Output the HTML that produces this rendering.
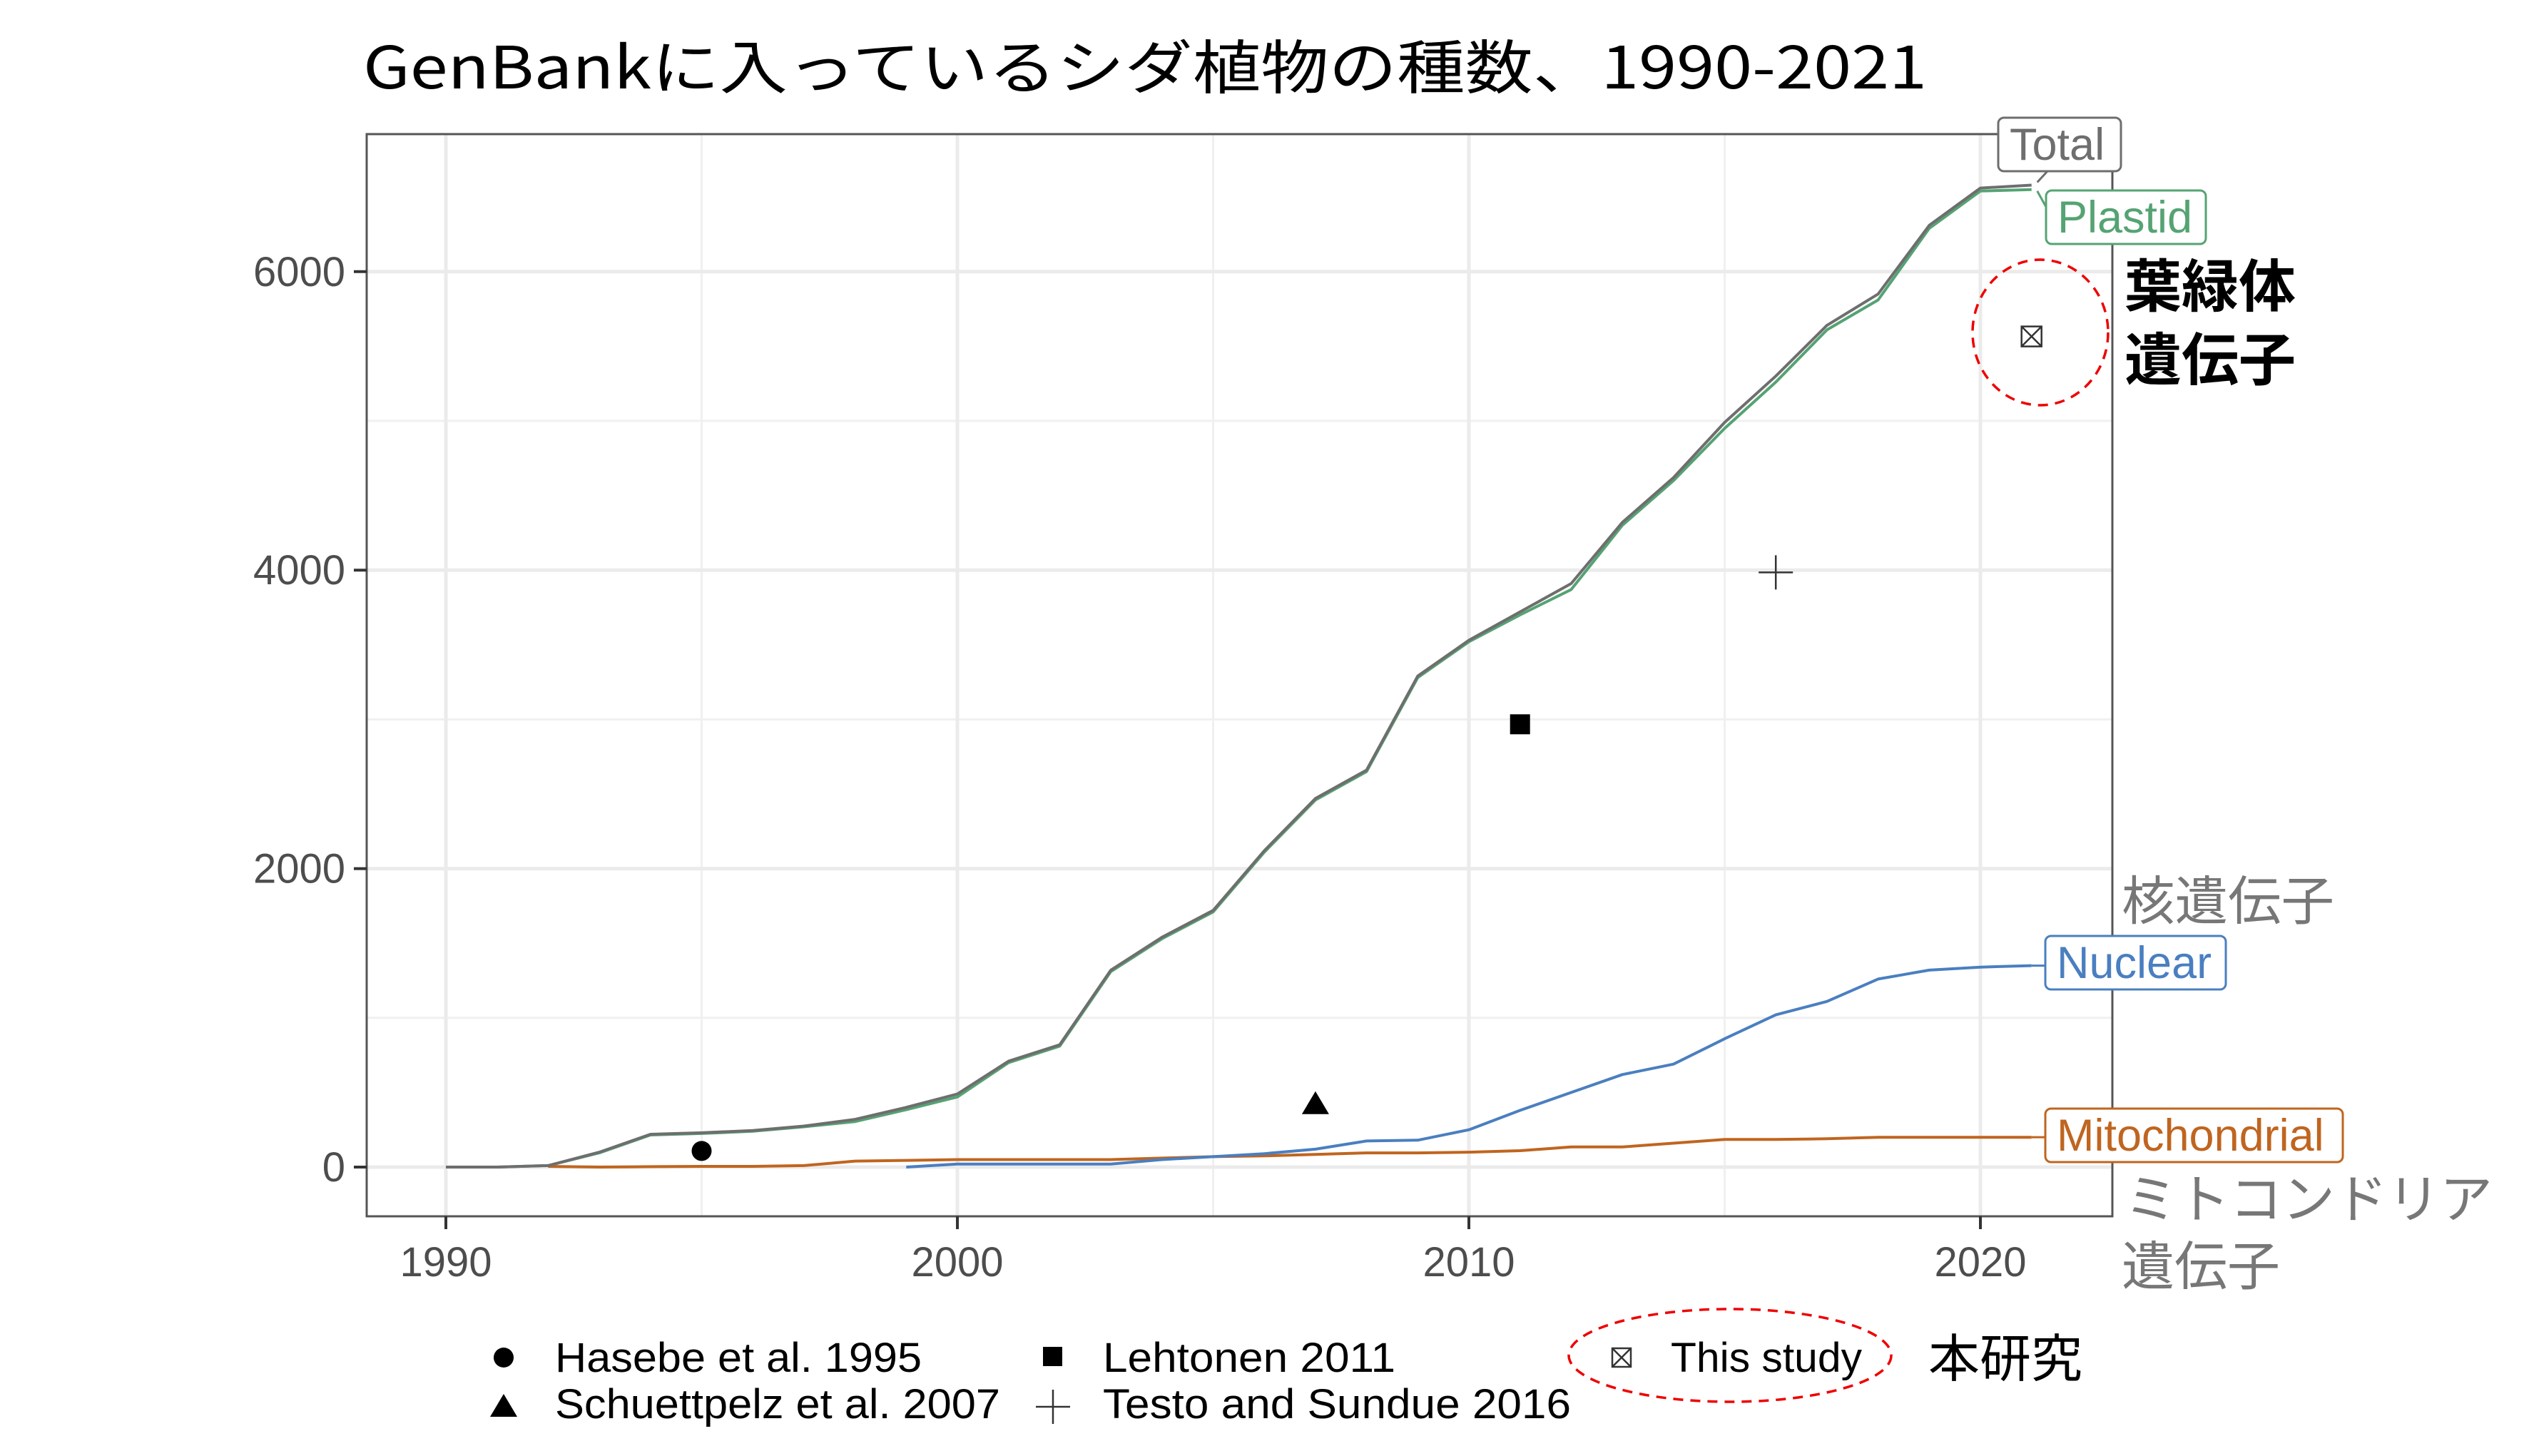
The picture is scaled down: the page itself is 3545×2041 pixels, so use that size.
<!DOCTYPE html>
<html><head><meta charset="utf-8"><style>
html,body{margin:0;padding:0;background:#fff}
svg{display:block}
</style></head><body>
<svg id="chart" width="3545" height="2041" viewBox="0 0 3545 2041" xmlns="http://www.w3.org/2000/svg">
<text x="509" y="124" font-family="'Noto Sans CJK JP', sans-serif" font-size="82" fill="#000" textLength="2192" lengthAdjust="spacingAndGlyphs">GenBankに入っているシダ植物の種数、1990-2021</text>
<g id="grid"></g>
<g id="series"></g>
<g id="points"></g>
<rect x="514" y="188" width="2447" height="1517" fill="none" stroke="#555" stroke-width="3"/>
<g id="axes"></g>
<g id="labels"></g>

<ellipse cx="2860" cy="466" rx="95" ry="102" fill="none" stroke="#e00" stroke-width="3.5" stroke-dasharray="14,10"/>
<text x="2978" y="430" font-family="'Noto Sans CJK JP', sans-serif" font-size="80" font-weight="bold" fill="#000">葉緑体</text>
<text x="2978" y="533" font-family="'Noto Sans CJK JP', sans-serif" font-size="80" font-weight="bold" fill="#000">遺伝子</text>
<text x="2974" y="1289" font-family="'Noto Sans CJK JP', sans-serif" font-size="74" fill="#777" textLength="298" lengthAdjust="spacingAndGlyphs">核遺伝子</text>
<text x="2978" y="1707" font-family="'Noto Sans CJK JP', sans-serif" font-size="74" fill="#777" textLength="516" lengthAdjust="spacing">ミトコンドリア</text>
<text x="2974" y="1801" font-family="'Noto Sans CJK JP', sans-serif" font-size="74" fill="#777">遺伝子</text>

<g id="legend" font-family="'Liberation Sans', sans-serif" font-size="58" fill="#000">
  <circle cx="706" cy="1903" r="14" fill="#000"/>
  <text x="778" y="1923" textLength="514" lengthAdjust="spacingAndGlyphs">Hasebe et al. 1995</text>
  <path d="M706,1954 L725,1986 L687,1986 Z" fill="#000"/>
  <text x="778" y="1988" textLength="624" lengthAdjust="spacingAndGlyphs">Schuettpelz et al. 2007</text>
  <rect x="1462" y="1888" width="27" height="27" fill="#000"/>
  <text x="1546" y="1923" textLength="410" lengthAdjust="spacingAndGlyphs">Lehtonen 2011</text>
  <path d="M1476,1948 V1996 M1452,1972 H1500" stroke="#333" stroke-width="2.5"/>
  <text x="1546" y="1988" textLength="656" lengthAdjust="spacingAndGlyphs">Testo and Sundue 2016</text>
  <g stroke="#333" stroke-width="2.5" fill="none">
    <rect x="2260" y="1890" width="26" height="26"/><path d="M2260,1890 L2286,1916 M2286,1890 L2260,1916"/>
  </g>
  <text x="2342" y="1923" textLength="268" lengthAdjust="spacingAndGlyphs">This study</text>
  <ellipse cx="2425" cy="1900" rx="226" ry="65" fill="none" stroke="#e00" stroke-width="3.5" stroke-dasharray="14,10"/>
  <text x="2703" y="1930" font-family="'Noto Sans CJK JP', sans-serif" font-size="72">本研究</text>
</g>
</svg>
<script>
const years = [1990,1991,1992,1993,1994,1995,1996,1997,1998,1999,2000,2001,2002,2003,2004,2005,2006,2007,2008,2009,2010,2011,2012,2013,2014,2015,2016,2017,2018,2019,2020,2021];
const totalVals = [0,0,10,100,220,230,245,275,320,400,490,710,820,1320,1540,1720,2120,2470,2660,3290,3530,3720,3910,4320,4620,4990,5300,5640,5850,6310,6560,6580];
const plastidVals = [0,0,10,95,215,225,240,270,305,385,470,700,810,1310,1530,1710,2110,2460,2650,3280,3520,3700,3870,4300,4600,4950,5260,5610,5810,6290,6540,6550];
const nuclearYears = [1999,2000,2001,2002,2003,2004,2005,2006,2007,2008,2009,2010,2011,2012,2013,2014,2015,2016,2017,2018,2019,2020,2021];
const nuclearVals = [0,20,20,20,20,50,70,90,120,175,180,250,380,500,620,690,860,1020,1110,1260,1320,1340,1350];
const mitoYears = [1992,1993,1994,1995,1996,1997,1998,1999,2000,2001,2002,2003,2004,2005,2006,2007,2008,2009,2010,2011,2012,2013,2014,2015,2016,2017,2018,2019,2020,2021];
const mitoVals = [5,0,3,5,5,10,40,45,50,50,50,50,60,70,75,85,95,95,100,110,135,135,160,185,185,190,200,200,200,200];
const refYears = [1995,2007,2011,2016,2021];
const refVals = [108,422,2967,3985,5566];
const refShapes = ['circle','triangle','square','plus','boxx'];
const refNames = ['point-hasebe-1995','point-schuettpelz-2007','point-lehtonen-2011','point-testo-2016','point-this-study'];
const xTicks = [1990,2000,2010,2020];
const yTicks = [0,2000,4000,6000];
const yMinor = [1000,3000,5000];
const xMinor = [1995,2005,2015];

const NS='http://www.w3.org/2000/svg';
const X0=514,X1=2961,Y0=188,Y1=1705;
const xs=v=>625+(v-1990)*71.7;
const ys=v=>1636-v*0.2092;
function mk(tag,attrs,parent){const e=document.createElementNS(NS,tag);for(const k in attrs)e.setAttribute(k,attrs[k]);parent.appendChild(e);return e;}
const grid=document.getElementById('grid'),axes=document.getElementById('axes'),series=document.getElementById('series'),pts=document.getElementById('points'),labels=document.getElementById('labels');
mk('rect',{x:X0,y:Y0,width:X1-X0,height:Y1-Y0,fill:'#fff'},grid);
yMinor.forEach(v=>{const l=mk('line',{x1:X0,x2:X1,y1:ys(v),y2:ys(v),stroke:'#f0f0f0','stroke-width':3},grid);

});
xMinor.forEach(v=>{const l=mk('line',{y1:Y0,y2:Y1,x1:xs(v),x2:xs(v),stroke:'#f0f0f0','stroke-width':3},grid);

});
yTicks.forEach(v=>{const l=mk('line',{x1:X0,x2:X1,y1:ys(v),y2:ys(v),stroke:'#ebebeb','stroke-width':5},grid);


const t=mk('line',{x1:X0-18,x2:X0,y1:ys(v),y2:ys(v),stroke:'#333','stroke-width':4},axes);


const tx=mk('text',{x:484,y:ys(v)+20,'text-anchor':'end','font-family':"'Liberation Sans', sans-serif",'font-size':58,fill:'#4d4d4d'},axes);
tx.textContent=v;

});
xTicks.forEach(v=>{const l=mk('line',{y1:Y0,y2:Y1,x1:xs(v),x2:xs(v),stroke:'#ebebeb','stroke-width':5},grid);


const t=mk('line',{y1:Y1,y2:Y1+18,x1:xs(v),x2:xs(v),stroke:'#333','stroke-width':4},axes);


const tx=mk('text',{x:xs(v),y:1789,'text-anchor':'middle','font-family':"'Liberation Sans', sans-serif",'font-size':58,fill:'#4d4d4d'},axes);
tx.textContent=v;

});
function line(xa,va,color,name){const d=xa.map((x,i)=>(i?'L':'M')+xs(x).toFixed(1)+','+ys(va[i]).toFixed(1)).join(' ');
const p=mk('path',{d:d,fill:'none',stroke:color,'stroke-width':4,'stroke-linejoin':'round'},series);

}
line(mitoYears,mitoVals,'#c0651f','mitochondrial-line');
line(nuclearYears,nuclearVals,'#4a7fc0','nuclear-line');
line(years,plastidVals,'#55a373','plastid-line');
line(years,totalVals,'#6e6e6e','total-line');
refYears.forEach((yr,i)=>{const cx=xs(yr),cy=ys(refVals[i]);let e;const s=refShapes[i];
if(s==='circle')e=mk('circle',{cx:cx,cy:cy,r:14,fill:'#000'},pts);
else if(s==='triangle')e=mk('path',{d:`M${cx},${cy-18} L${cx+19},${cy+14} L${cx-19},${cy+14} Z`,fill:'#000'},pts);
else if(s==='square')e=mk('rect',{x:cx-14,y:cy-14,width:28,height:28,fill:'#000'},pts);
else if(s==='plus')e=mk('path',{d:`M${cx},${cy-24} V${cy+24} M${cx-24},${cy} H${cx+24}`,stroke:'#333','stroke-width':2.5},pts);
else e=mk('path',{d:`M${cx-14},${cy-14} h28 v28 h-28 Z M${cx-14},${cy-14} L${cx+14},${cy+14} M${cx+14},${cy-14} L${cx-14},${cy+14}`,stroke:'#333','stroke-width':2.5,fill:'none'},pts);

});
function label(txt,x,y,w,color,name,lx,ly){
mk('path',{d:`M${lx[0]},${lx[1]} L${ly[0]},${ly[1]}`,stroke:color,'stroke-width':3},labels);
const r=mk('rect',{x:x,y:y,width:w,height:75,rx:8,fill:'#fff',stroke:color,'stroke-width':3},labels);


const t=mk('text',{x:x+16,y:y+59,'font-family':"'Liberation Sans', sans-serif",'font-size':63,fill:color},labels);
t.textContent=txt;

}
const last=years.length-1;
label('Total',2801,165,172,'#6e6e6e','total-label',[xs(2021)+8,ys(totalVals[last])-4],[2870,240]);
label('Plastid',2868,267,224,'#55a373','plastid-label',[xs(2021)+8,ys(plastidVals[last])+2],[2868,290]);
label('Nuclear',2867,1312,253,'#4a7fc0','nuclear-label',[xs(2021),ys(nuclearVals[nuclearVals.length-1])],[2867,ys(nuclearVals[nuclearVals.length-1])]);
label('Mitochondrial',2867,1554,417,'#c0651f','mitochondrial-label',[xs(2021),ys(mitoVals[mitoVals.length-1])],[2867,ys(mitoVals[mitoVals.length-1])]);
</script>
</body></html>
